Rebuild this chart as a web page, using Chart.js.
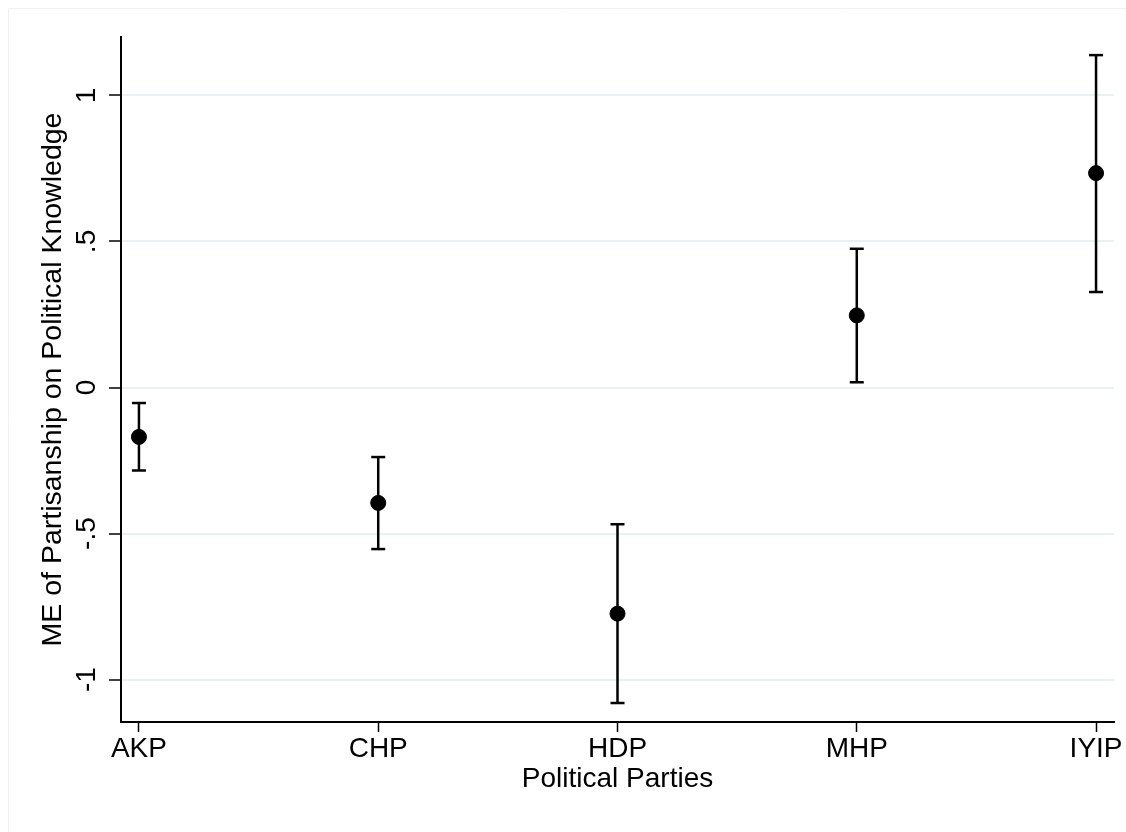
<!DOCTYPE html>
<html lang="en">
  <head>
    <meta charset="UTF-8" />
    <title>ME of Partisanship on Political Knowledge</title>
    <script src="https://cdn.jsdelivr.net/npm/chart.js"></script>
    <style>
      html,
      body {
        margin: 0;
        padding: 0;
        background-color: #fff;
      }
      #chartContainer {
        position: relative;
        width: 1126px;
        height: 832px;
      }
    </style>
  </head>
  <body>
    <div id="chartContainer">
      <canvas id="meChart"></canvas>
    </div>

    <script>
      // Data
      const parties = ["AKP", "CHP", "HDP", "MHP", "IYIP"];
      const estimates = [-0.169, -0.395, -0.774, 0.247, 0.734];
      const lowerCI = [-0.284, -0.553, -1.08, 0.018, 0.327];
      const upperCI = [-0.053, -0.238, -0.468, 0.475, 1.138];
      const yTicks = [-1, -0.5, 0, 0.5, 1];
      const yTickLabels = ["-1", "-.5", "0", ".5", "1"];

      const FONT = "'Liberation Sans', Arial, Helvetica, sans-serif";

      // error bar segments, separated by gaps
      const barSegments = [];
      const capPoints = [];
      parties.forEach((p, i) => {
        barSegments.push({ x: i, y: lowerCI[i] });
        barSegments.push({ x: i, y: upperCI[i] });
        barSegments.push({ x: i, y: null });
        capPoints.push({ x: i, y: lowerCI[i] });
        capPoints.push({ x: i, y: upperCI[i] });
      });

      // rotated y tick labels and faint outer frame
      const decorPlugin = {
        id: "decor",
        beforeDraw(chart) {
          const ctx = chart.ctx;
          ctx.save();
          ctx.strokeStyle = "#eef2f4";
          ctx.lineWidth = 1;
          ctx.beginPath();
          ctx.moveTo(8.5, 832);
          ctx.lineTo(8.5, 8.5);
          ctx.lineTo(1126, 8.5);
          ctx.stroke();
          ctx.restore();
        },
        afterDraw(chart) {
          const ctx = chart.ctx;
          const yScale = chart.scales.y;
          ctx.save();
          ctx.fillStyle = "#000";
          ctx.font = "28px " + FONT;
          ctx.textAlign = "center";
          ctx.textBaseline = "middle";
          yTicks.forEach((v, i) => {
            const py = yScale.getPixelForValue(v);
            ctx.save();
            ctx.translate(87, py);
            ctx.rotate(-Math.PI / 2);
            ctx.fillText(yTickLabels[i], 0, 0);
            ctx.restore();
          });
          ctx.restore();
        },
      };

      const ctx = document.getElementById("meChart").getContext("2d");
      new Chart(ctx, {
        type: "scatter",
        data: {
          datasets: [
            {
              label: "CI",
              type: "line",
              data: barSegments,
              borderColor: "#000",
              borderWidth: 2.5,
              pointRadius: 0,
              spanGaps: false,
              order: 3,
            },
            {
              label: "Caps",
              data: capPoints,
              pointStyle: "line",
              pointRadius: 7,
              borderColor: "#000",
              borderWidth: 2.5,
              order: 2,
            },
            {
              label: "ME",
              data: estimates.map((v, i) => ({ x: i, y: v })),
              pointStyle: "circle",
              pointRadius: 7.5,
              backgroundColor: "#000",
              borderColor: "#000",
              borderWidth: 1,
              order: 1,
            },
          ],
        },
        options: {
          responsive: true,
          maintainAspectRatio: false,
          animation: false,
          layout: {
            padding: { left: 0, top: 37, right: 12, bottom: 0 },
          },
          scales: {
            x: {
              type: "linear",
              min: -0.075,
              max: 4.075,
              afterBuildTicks: (scale) => {
                scale.ticks = parties.map((p, i) => ({ value: i }));
              },
              afterFit: (scale) => {
                scale.height = 110;
              },
              grid: {
                drawOnChartArea: false,
                drawTicks: true,
                tickLength: 10,
                tickColor: "#000",
                tickWidth: 1.5,
              },
              border: { display: true, color: "#000", width: 2 },
              ticks: {
                padding: 0,
                maxRotation: 0,
                color: "#000",
                font: { family: FONT, size: 28 },
                callback: (v) => parties[v],
              },
              title: {
                display: true,
                text: "Political Parties",
                color: "#000",
                font: { family: FONT, size: 28 },
                padding: { top: 0, bottom: 36 },
              },
            },
            y: {
              min: -1.145,
              max: 1.2,
              afterBuildTicks: (scale) => {
                scale.ticks = yTicks.map((v) => ({ value: v }));
              },
              afterFit: (scale) => {
                scale.width = 121;
              },
              grid: {
                color: "#eaf1f3",
                lineWidth: 2,
                drawTicks: true,
                tickLength: 12,
                tickColor: "#000",
                tickWidth: 1.5,
              },
              border: { display: true, color: "#000", width: 2 },
              ticks: { display: false },
              title: {
                display: true,
                text: "ME of Partisanship on Political Knowledge",
                color: "#000",
                font: { family: FONT, size: 28.5 },
                padding: { top: 36, bottom: 0 },
              },
            },
          },
          plugins: {
            legend: { display: false },
            tooltip: { enabled: false },
          },
        },
        plugins: [decorPlugin],
      });
    </script>
  </body>
</html>
